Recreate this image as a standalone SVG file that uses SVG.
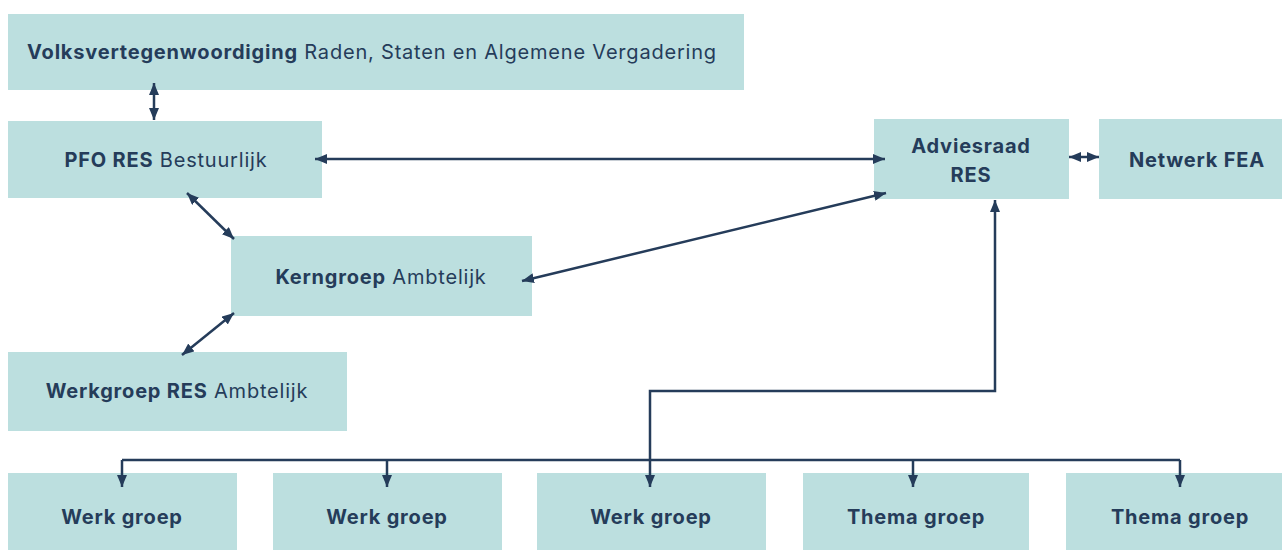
<svg xmlns="http://www.w3.org/2000/svg" width="1282" height="550" viewBox="0 0 1282 550">
<defs>
<style>
.box{fill:#bcdfdf}
text{font-family:Inter,"Noto Sans",sans-serif;font-size:20px;letter-spacing:0.8px;fill:#253c5a;text-anchor:middle;dominant-baseline:central}
.b{font-weight:700}
.c{fill:none;stroke:#253c5a;stroke-width:2.5}
</style>
<marker id="ah" viewBox="0 0 12 10" refX="12" refY="5" markerWidth="12" markerHeight="10" markerUnits="userSpaceOnUse" orient="auto-start-reverse">
<path d="M0,0 L12,5 L0,10 z" fill="#253c5a"/>
</marker>
</defs>
<rect width="1282" height="550" fill="#fff"/>
<g id="volks"><rect class="box" x="8" y="14" width="736" height="76"/><text x="372" y="52"><tspan class="b">Volksvertegenwoordiging</tspan> Raden, Staten en Algemene Vergadering</text></g>
<g id="pfo"><rect class="box" x="8" y="121" width="314" height="77"/><text x="166" y="160"><tspan class="b">PFO RES</tspan> Bestuurlijk</text></g>
<g id="advies"><rect class="box" x="874" y="119" width="195" height="80"/><text class="b" x="971" y="146">Adviesraad</text><text class="b" x="971" y="175">RES</text></g>
<g id="netwerk"><rect class="box" x="1099" y="119" width="183" height="80"/><text class="b" x="1197" y="160">Netwerk FEA</text></g>
<g id="kern"><rect class="box" x="231" y="236" width="301" height="80"/><text x="381" y="277"><tspan class="b">Kerngroep</tspan> Ambtelijk</text></g>
<g id="werkres"><rect class="box" x="8" y="352" width="339" height="79"/><text x="177" y="391"><tspan class="b">Werkgroep RES</tspan> Ambtelijk</text></g>
<g id="wg1"><rect class="box" x="8" y="473" width="229" height="77"/><text class="b" x="122" y="517">Werk groep</text></g>
<g id="wg2"><rect class="box" x="273" y="473" width="229" height="77"/><text class="b" x="387" y="517">Werk groep</text></g>
<g id="wg3"><rect class="box" x="537" y="473" width="229" height="77"/><text class="b" x="651" y="517">Werk groep</text></g>
<g id="tg1"><rect class="box" x="803" y="473" width="226" height="77"/><text class="b" x="916" y="517">Thema groep</text></g>
<g id="tg2"><rect class="box" x="1066" y="473" width="216" height="77"/><text class="b" x="1180" y="517">Thema groep</text></g>
<g id="connectors">
<path class="c" d="M154,83 L154,120" marker-start="url(#ah)" marker-end="url(#ah)"/>
<path class="c" d="M315,159 L885,159" marker-start="url(#ah)" marker-end="url(#ah)"/>
<path class="c" d="M1069,157 L1099,157" marker-start="url(#ah)" marker-end="url(#ah)"/>
<path class="c" d="M187,193 L234,239" marker-start="url(#ah)" marker-end="url(#ah)"/>
<path class="c" d="M234,313 L182,355" marker-start="url(#ah)" marker-end="url(#ah)"/>
<path class="c" d="M522,281 L886,193" marker-start="url(#ah)" marker-end="url(#ah)"/>
<path class="c" d="M650,487 L650,391 L995,391 L995,200" marker-start="url(#ah)" marker-end="url(#ah)"/>
<path class="c" d="M122,460 L1180,460"/>
<path class="c" d="M122,460 L122,487" marker-end="url(#ah)"/>
<path class="c" d="M387,460 L387,487" marker-end="url(#ah)"/>
<path class="c" d="M913,460 L913,487" marker-end="url(#ah)"/>
<path class="c" d="M1180,460 L1180,487" marker-end="url(#ah)"/>
</g>
</svg>
